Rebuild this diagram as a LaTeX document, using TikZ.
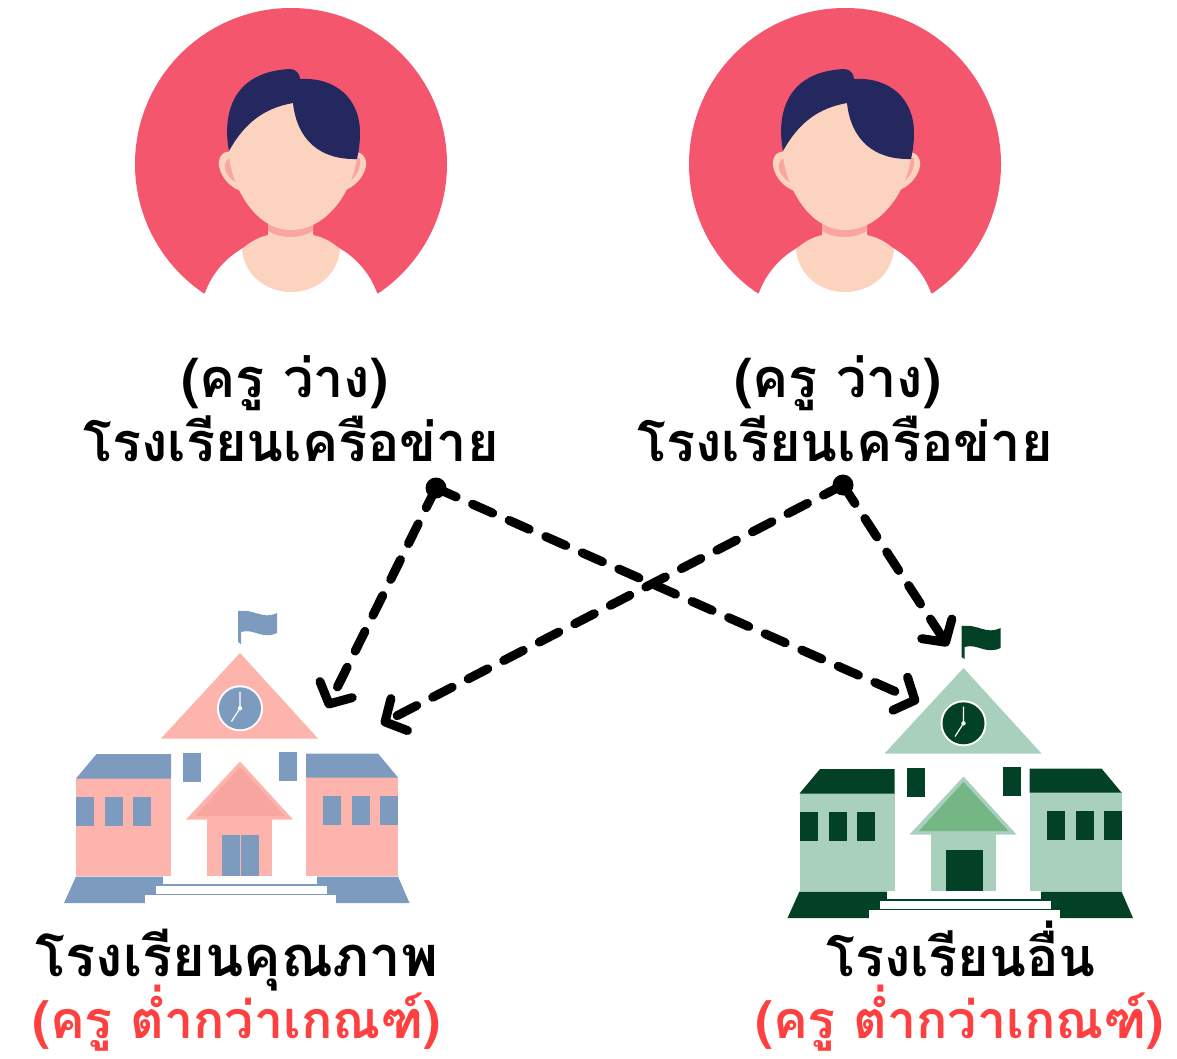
\documentclass[tikz,border=0pt]{standalone}
\usepackage{fontspec}
\newfontfamily\thaifont[Script=Thai]{Loma}
\usetikzlibrary{arrows.meta}

\definecolor{discred}{HTML}{F4566D}
\definecolor{skintone}{HTML}{FBD3BE}
\definecolor{skinshade}{HTML}{FAA6A0}
\definecolor{hairblue}{HTML}{24285E}
\definecolor{wallred}{HTML}{FDB4AD}
\definecolor{trimblue}{HTML}{7D9BBE}
\definecolor{porchred}{HTML}{F8A5A0}
\definecolor{wallgreen}{HTML}{A9CFBD}
\definecolor{trimgreen}{HTML}{024126}
\definecolor{porchgreen}{HTML}{74B785}
\definecolor{labelred}{HTML}{FF4040}

\tikzset{
  schoollabel/.style={font=\thaifont\bfseries\fontsize{54}{60}\selectfont,text=black,inner sep=0pt,anchor=base},
  widelabel/.style={schoollabel,font=\thaifont\bfseries\fontsize{56}{60}\selectfont},
  lowlabel/.style={schoollabel,font=\thaifont\bfseries\fontsize{52}{60}\selectfont,text=labelred},
  hubdot/.style={circle,fill=black,minimum size=21pt,inner sep=0pt},
  flow/.style={line width=9pt,line cap=round,dash pattern=on 22pt off 18pt,
    -{Straight Barb[round,length=16pt,width=36pt,line width=9pt]}},
  teacher/.pic={
    % Draw disc
    \begin{scope}
      \clip (130,0) rectangle (452,293);
      \fill[discred] (291,164) circle (156);
    \end{scope}
    \fill[white] (205,293) .. controls (218,258) and (250,237) .. (291,234)
      .. controls (332,237) and (364,258) .. (377,293) -- (382,296) -- (200,296) -- cycle;
    % Draw neck and chest
    \fill[skintone] (268,215) -- (313,215) -- (313,235) .. controls (326,238) and (333,243) .. (340,249)
      .. controls (338,275) and (316,292) .. (291,292) .. controls (266,292) and (244,275) .. (242,249)
      .. controls (249,243) and (256,238) .. (268,235) -- cycle;
    \fill[skinshade] (268,222) -- (313,222) -- (313,231) .. controls (300,239) and (281,239) .. (268,231) -- cycle;
    % Draw ears
    \fill[skintone] (232,152) .. controls (222,150) and (218,158) .. (219,166)
      .. controls (221,178) and (231,188) .. (241,191) -- cycle;
    \fill[skintone] (350,152) .. controls (362,150) and (367,158) .. (366,166)
      .. controls (364,178) and (353,188) .. (343,191) -- cycle;
    \fill[skinshade] (230,158) .. controls (224,160) and (224,168) .. (226,172) .. controls (228,176) and (232,180) .. (235,182) -- cycle;
    \fill[skinshade] (360,158) .. controls (361,166) and (358,176) .. (349,182) .. controls (352,172) and (354,165) .. (354,158) -- cycle;
    % Draw face
    \fill[skintone] (229,150) .. controls (228,175) and (250,230) .. (291,230)
      .. controls (332,230) and (358,180) .. (357,150) .. controls (355,115) and (330,95) .. (293,96)
      .. controls (260,97) and (232,120) .. (229,150) -- cycle;
    % Draw hair
    \fill[hairblue] (229,151) .. controls (223,120) and (228,72) .. (290,69)
      .. controls (296,69) and (300,74) .. (300,79) .. controls (335,77) and (360,98) .. (360,133)
      .. controls (360,142) and (359,150) .. (357,159) .. controls (320,160) and (297,140) .. (293,103)
      .. controls (265,108) and (245,122) .. (229,151) -- cycle;
  },
  school/.pic={
    % Draw flag
    \fill[schooltrim] (238,642) -- (238,611) .. controls (256,609) and (262,620) .. (277,613) -- (277,633)
      .. controls (262,640) and (254,628) .. (241,632) -- (241,644) -- cycle;
    % Draw gable and clock
    \fill[schoolwall] (240,653) -- (318,738.5) -- (161,738.5) -- cycle;
    \fill[white] (240,708.3) circle (23);
    \fill[schooltrim] (240,708.3) circle (21);
    \draw[white,line width=1.2pt] (240,691.5) -- (240,708.3) -- (231.5,721.5);
    \fill[white] (240,708.3) circle (2.2);
    % Draw wings
    \fill[schoolwall] (76,778) rectangle (171,876);
    \fill[schoolwall] (306,777) rectangle (398,876);
    \fill[schooltrim] (76,778.5) -- (96.5,754) -- (171,754) -- (171,778.5) -- cycle;
    \fill[schooltrim] (306,753.5) -- (378,753.5) -- (398,777.5) -- (306,777.5) -- cycle;
    \foreach \wx in {76,105,133} {\fill[schooltrim] (\wx,797) rectangle ++(18,29);}
    \foreach \wx in {323,352,380} {\fill[schooltrim] (\wx,796) rectangle ++(18,29);}
    \fill[schooltrim] (183,753) rectangle (201,782);
    \fill[schooltrim] (279,752) rectangle (297,781);
    % Draw porch
    \fill[schoolwall] (240,761.5) -- (293,819.5) -- (186,819.5) -- cycle;
    \fill[schoolporch] (240,767) -- (285,816) -- (195.5,816) -- cycle;
    \fill[schoolwall] (207,819) rectangle (272,876);
    \fill[schooltrim] (222,835) rectangle (259,876);
    % Draw base and steps
    \fill[schooltrim] (76,876.5) -- (398,876.5) -- (409.5,903) -- (64,903) -- cycle;
    \fill[white] (163,876) rectangle (317,884);
    \fill[white] (156,886) rectangle (327,894);
    \fill[white] (145,895) rectangle (336,903.5);
  }
}

\begin{document}
\begin{tikzpicture}[x=1pt,y=-1pt]
    \useasboundingbox (0,0) rectangle (1177,1059);

    % Draw teachers
    \pic at (0,0) {teacher};
    \pic at (554,0) {teacher};

    % Draw schools
    \colorlet{schoolwall}{wallred}
    \colorlet{schooltrim}{trimblue}
    \colorlet{schoolporch}{porchred}
    \pic at (0,0) {school};
    \fill[wallred] (240,835) rectangle (240.8,876);
    \colorlet{schoolwall}{wallgreen}
    \colorlet{schooltrim}{trimgreen}
    \colorlet{schoolporch}{porchgreen}
    \pic at (723.5,15) {school};

    % Draw labels
    \node[schoollabel] (freeL) at (285,397) {(ครู ว่าง)};
    \node[schoollabel] (netL) at (291,461) {โรงเรียนเครือข่าย};
    \node[schoollabel] (freeR) at (838,397) {(ครู ว่าง)};
    \node[schoollabel] (netR) at (845,461) {โรงเรียนเครือข่าย};
    \node[widelabel] (quality) at (237,976) {โรงเรียนคุณภาพ};
    \node[lowlabel] (lowL) at (237,1038) {(ครู ต่ำกว่าเกณฑ์)};
    \node[schoollabel] (other) at (961,976) {โรงเรียนอื่น};
    \node[lowlabel] (lowR) at (960,1038) {(ครู ต่ำกว่าเกณฑ์)};

    % Draw arrows
    \node[hubdot] (hubL) at (436,488) {};
    \node[hubdot] (hubR) at (843,485) {};
    \coordinate (tipQa) at (327,708);
    \coordinate (tipQb) at (381,724);
    \coordinate (tipOa) at (919,702);
    \coordinate (tipOb) at (948,646);
    \draw[flow] (hubL.center) -- (tipQa);
    \draw[flow] (hubL.center) -- (tipOa);
    \draw[flow] (hubR.center) -- (tipQb);
    \draw[flow] (hubR.center) -- (tipOb);
\end{tikzpicture}
\end{document}
